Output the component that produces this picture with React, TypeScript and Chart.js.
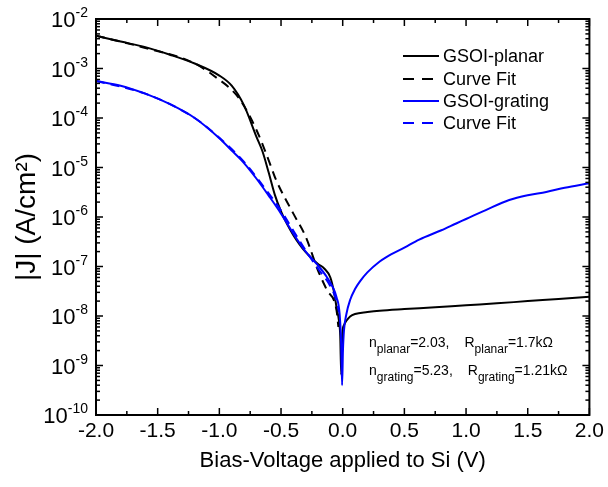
import { useEffect, useRef } from 'react';
import { Chart, registerables } from 'chart.js';

Chart.register(...registerables);

const FONT = '"Liberation Sans", Arial, sans-serif';

// ---- data ----
const planarV = [-2.0, -1.8, -1.6, -1.4, -1.2, -1.0, -0.9, -0.8, -0.7, -0.65, -0.6, -0.55, -0.5, -0.45, -0.4, -0.35, -0.3, -0.25, -0.2, -0.15, -0.1, -0.07, -0.05, -0.03, -0.02, -0.012, -0.005, 0.0, 0.01, 0.03, 0.06, 0.1, 0.2, 0.3, 0.5, 0.75, 1.0, 1.25, 1.5, 1.75, 2.0];
const planarJ = [4.6e-3, 3.5e-3, 2.7e-3, 1.9e-3, 1.26e-3, 7.2e-4, 4.5e-4, 1.8e-4, 4.2e-5, 2.1e-5, 7.9e-6, 2.8e-6, 1.3e-6, 7.1e-7, 4.3e-7, 2.8e-7, 1.95e-7, 1.45e-7, 1.12e-7, 9.1e-8, 6.0e-8, 3.0e-8, 1.5e-8, 7.9e-9, 4.0e-9, 6.5e-10, 2.5e-9, 5.2e-9, 6.5e-9, 8.0e-9, 9.8e-9, 1.1e-8, 1.2e-8, 1.28e-8, 1.38e-8, 1.5e-8, 1.65e-8, 1.8e-8, 2.0e-8, 2.2e-8, 2.45e-8];

const planarFitV = [-2.0, -1.6, -1.2, -1.0, -0.9, -0.83, -0.7, -0.6, -0.54, -0.4, -0.3, -0.2, -0.13, -0.05, -0.035];
const planarFitJ = [4.6e-3, 2.6e-3, 1.27e-3, 5.9e-4, 3.7e-4, 2.3e-4, 5.8e-5, 1.4e-5, 5.6e-6, 1.17e-6, 4.0e-7, 8.3e-8, 3.4e-8, 1.3e-8, 6.0e-9];

const gratingV = [-2.0, -1.8, -1.6, -1.4, -1.2, -1.0, -0.9, -0.8, -0.7, -0.6, -0.5, -0.4, -0.3, -0.2, -0.13, -0.08, -0.05, -0.025, -0.012, -0.005, 0.002, 0.01, 0.03, 0.06, 0.1, 0.14, 0.2, 0.3, 0.354, 0.5, 0.62, 0.8, 0.92, 1.0, 1.16, 1.35, 1.5, 1.65, 1.8, 2.0];
const gratingJ = [5.6e-4, 4.5e-4, 3.1e-4, 1.9e-4, 1.0e-4, 3.9e-5, 2.2e-5, 1.23e-5, 6.0e-6, 2.7e-6, 1.17e-6, 4.6e-7, 2.0e-7, 1.05e-7, 6.2e-8, 3.8e-8, 2.4e-8, 1.1e-8, 2.5e-9, 4.0e-10, 2.0e-9, 5.0e-9, 1.1e-8, 2.1e-8, 3.5e-8, 5.0e-8, 7.6e-8, 1.26e-7, 1.55e-7, 2.4e-7, 3.5e-7, 5.4e-7, 7.4e-7, 9.1e-7, 1.38e-6, 2.2e-6, 2.75e-6, 3.2e-6, 3.9e-6, 4.8e-6];

const gratingFitV = [-2.0, -1.6, -1.2, -1.0, -0.8, -0.6, -0.5, -0.4, -0.3, -0.2, -0.1, -0.05, -0.03];
const gratingFitJ = [5.6e-4, 3.1e-4, 1.0e-4, 4.0e-5, 1.3e-5, 3.0e-6, 1.35e-6, 5.3e-7, 2.1e-7, 9.0e-8, 4.0e-8, 2.0e-8, 1.2e-8];

const seriesLabels = ['GSOI-planar', 'Curve Fit', 'GSOI-grating', 'Curve Fit'];
const seriesColors = ['#000000', '#000000', '#0000ff', '#0000ff'];
const seriesDashed = [false, true, false, true];

const xMin = -2;
const xMax = 2;
const xMajorStep = 0.5;
const xMinorStep = 0.25;
const yDecades = [-10, -9, -8, -7, -6, -5, -4, -3, -2];

const xTitle = 'Bias-Voltage applied to Si (V)';
const yTitle = '|J| (A/cm²)';

const annotLines = [
  { n: 'planar', nVal: '=2.03,', r: 'planar', rVal: '=1.7kΩ' },
  { n: 'grating', nVal: '=5.23,', r: 'grating', rVal: '=1.21kΩ' },
];

const toPts = (v: number[], j: number[]) => v.map((x, i) => ({ x, y: j[i] }));

const decorPlugin = {
  id: 'decor',
  afterDatasetsDraw(chart: any) {
    const { ctx, chartArea: a, scales } = chart;
    const xs = scales.x;
    const ys = scales.y;
    ctx.save();
    ctx.strokeStyle = '#000';
    ctx.lineWidth = 1.5;
    const seg = (x1: number, y1: number, x2: number, y2: number) => {
      ctx.beginPath();
      ctx.moveTo(x1, y1);
      ctx.lineTo(x2, y2);
      ctx.stroke();
    };
    // x ticks (inward, top and bottom)
    const nx = Math.round((xMax - xMin) / xMinorStep);
    for (let i = 0; i <= nx; i++) {
      const v = xMin + i * xMinorStep;
      const px = xs.getPixelForValue(v);
      const major = Math.abs(v / xMajorStep - Math.round(v / xMajorStep)) < 1e-6;
      const len = major ? 7 : 4;
      seg(px, a.bottom, px, a.bottom - len);
      seg(px, a.top, px, a.top + len);
    }
    // y ticks (inward, left and right)
    for (let d = 0; d < yDecades.length; d++) {
      const k = yDecades[d];
      for (let m = 1; m <= 9; m++) {
        if (k === yDecades[yDecades.length - 1] && m > 1) break;
        const py = ys.getPixelForValue(m * Math.pow(10, k));
        const len = m === 1 ? 7 : 4;
        seg(a.left, py, a.left + len, py);
        seg(a.right, py, a.right - len, py);
      }
    }
    // frame
    ctx.lineWidth = 2;
    ctx.strokeRect(a.left, a.top, a.right - a.left, a.bottom - a.top);

    // y labels with superscripts
    ctx.fillStyle = '#000';
    ctx.textBaseline = 'alphabetic';
    for (const k of yDecades) {
      const py = ys.getPixelForValue(Math.pow(10, k));
      const sup = '-' + String(-k);
      ctx.font = `14px ${FONT}`;
      const wSup = ctx.measureText(sup).width;
      ctx.font = `22px ${FONT}`;
      const wBase = ctx.measureText('10').width;
      const right = a.left - 8;
      ctx.textAlign = 'left';
      ctx.fillText('10', right - wSup - wBase, py + 8);
      ctx.font = `14px ${FONT}`;
      ctx.fillText(sup, right - wSup, py - 2);
    }

    // legend
    const lx1 = 403, lx2 = 439, tx = 443;
    const rows = [56, 79, 101, 123];
    ctx.font = `18px ${FONT}`;
    ctx.textBaseline = 'middle';
    ctx.textAlign = 'left';
    for (let i = 0; i < seriesLabels.length; i++) {
      ctx.strokeStyle = seriesColors[i];
      ctx.lineWidth = 2;
      ctx.setLineDash(seriesDashed[i] ? [11, 8] : []);
      seg(lx1, rows[i], lx2, rows[i]);
      ctx.setLineDash([]);
      ctx.fillStyle = '#000';
      ctx.fillText(seriesLabels[i], tx, rows[i] + 1);
    }

    // annotation
    ctx.textBaseline = 'alphabetic';
    const bases = [347, 375];
    const mainF = `14px ${FONT}`;
    const subF = `12px ${FONT}`;
    annotLines.forEach((ln, i) => {
      let x = 369;
      const b = bases[i];
      const put = (t: string, f: string, dy: number) => {
        ctx.font = f;
        ctx.fillText(t, x, b + dy);
        x += ctx.measureText(t).width;
      };
      put('n', mainF, 0);
      put(ln.n, subF, 6);
      put(ln.nVal, mainF, 0);
      x += 15;
      put('R', mainF, 0);
      put(ln.r, subF, 6);
      put(ln.rVal, mainF, 0);
    });
    ctx.restore();
  },
};

export default function App() {
  const ref = useRef<HTMLCanvasElement | null>(null);
  useEffect(() => {
    if (!ref.current) return;
    Chart.defaults.font.family = FONT;
    Chart.defaults.color = '#000';
    const datasets = [
      { v: planarV, j: planarJ, order: 3 },
      { v: planarFitV, j: planarFitJ, order: 2 },
      { v: gratingV, j: gratingJ, order: 1 },
      { v: gratingFitV, j: gratingFitJ, order: 0 },
    ].map((s, i) => ({
      label: seriesLabels[i],
      data: toPts(s.v, s.j),
      borderColor: seriesColors[i],
      backgroundColor: seriesColors[i],
      borderWidth: 2,
      borderDash: seriesDashed[i] ? [9, 6] : [],
      pointRadius: 0,
      tension: 0.3,
      cubicInterpolationMode: 'monotone' as const,
      fill: false,
      order: s.order,
    }));
    const chart = new Chart(ref.current, {
      type: 'line',
      data: { datasets },
      options: {
        animation: false,
        responsive: false,
        devicePixelRatio: 1,
        parsing: false as any,
        layout: { padding: { top: 19, right: 18, left: 0, bottom: 0 } },
        plugins: { legend: { display: false }, tooltip: { enabled: false } },
        scales: {
          x: {
            type: 'linear',
            position: 'bottom',
            min: xMin,
            max: xMax,
            afterFit: (s: any) => { s.height = 72; },
            grid: { display: false, drawTicks: false },
            border: { display: false },
            ticks: {
              stepSize: xMajorStep,
              autoSkip: false,
              maxRotation: 0,
              padding: 4,
              font: { size: 21, family: FONT },
              color: '#000',
              callback: (v: any) => Number(v).toFixed(1),
            },
            title: {
              display: true,
              text: xTitle,
              font: { size: 22, family: FONT },
              color: '#000',
              padding: { top: 0, bottom: 13 },
            },
          },
          y: {
            type: 'logarithmic',
            position: 'left',
            min: 1e-10,
            max: 1e-2,
            afterFit: (s: any) => { s.width = 96; },
            grid: { display: false, drawTicks: false },
            border: { display: false },
            ticks: { display: false },
            title: {
              display: true,
              text: yTitle,
              font: { size: 28, family: FONT },
              color: '#000',
              padding: { top: 10, bottom: 0 },
            },
          },
        },
      },
      plugins: [decorPlugin],
    } as any);
    return () => chart.destroy();
  }, []);
  return (
    <div style={{ position: 'fixed', left: 0, top: 0, width: 608, height: 487, background: '#fff' }}>
      <canvas ref={ref} width={608} height={487} style={{ width: 608, height: 487, display: 'block' }} />
    </div>
  );
}
